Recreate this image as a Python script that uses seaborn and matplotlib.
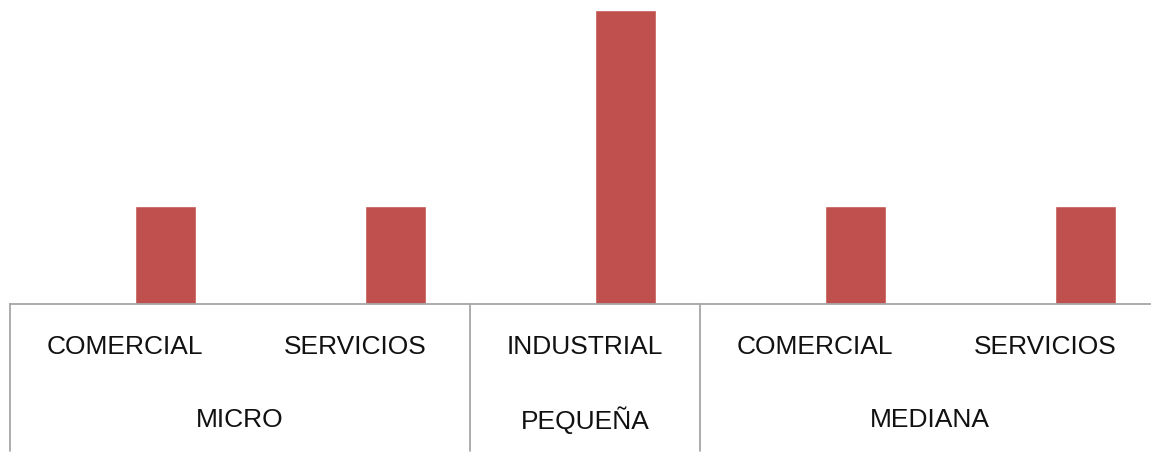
import numpy as np
import pandas as pd
import matplotlib
matplotlib.use('Agg')
import matplotlib.pyplot as plt
import matplotlib.transforms as mtransforms
import seaborn as sns

# data
sectors = ['COMERCIAL', 'SERVICIOS', 'INDUSTRIAL', 'COMERCIAL', 'SERVICIOS']
sizes = ['MICRO', 'PEQUEÑA', 'MEDIANA']
size_spans = [2, 1, 2]
counts = [1, 1, 3, 1, 1]

BAR_COLOR = '#C0504D'
LINE_COLOR = '#A6A6A6'
BAR_SHIFT = 0.175   # excel puts the single visible series right of the cluster centre

sns.set_theme(style='white')
plt.rcParams['font.family'] = ['Liberation Sans', 'DejaVu Sans']

W, H = 1151, 456
fig = plt.figure(figsize=(W / 100, H / 100), dpi=100)
ax = fig.add_axes([10 / W, (H - 305) / H, 5 * 230 / W, 294 / H])

df = pd.DataFrame({'pos': np.arange(len(counts)) + BAR_SHIFT, 'count': counts})
sns.barplot(data=df, x='pos', y='count', native_scale=True, width=0.266,
            color=BAR_COLOR, saturation=1, ax=ax)

ax.set_xlim(-0.5, len(counts) - 0.5)
ax.set_ylim(0, 3)
ax.set_xticks([])
ax.set_yticks([])
ax.set_xlabel('')
ax.set_ylabel('')
for side in ['top', 'right', 'left']:
    ax.spines[side].set_visible(False)
ax.spines['bottom'].set_color(LINE_COLOR)
ax.spines['bottom'].set_linewidth(1.3)

trans = mtransforms.blended_transform_factory(ax.transData, ax.transAxes)
depth = -147 / 294
row1 = -42 / 294
row2 = -115 / 294

# sector labels
for i, s in enumerate(sectors):
    ax.text(i, row1, s, transform=trans, ha='center', va='center',
            fontsize=19, color='#111111')

# group labels and separators
start = 0
for name, span in zip(sizes, size_spans):
    left = start - 0.5
    ax.plot([left, left], [0, depth], transform=trans, color=LINE_COLOR,
            lw=1.3, clip_on=False)
    ax.text(start - 0.5 + span / 2, row2, name, transform=trans, ha='center',
            va='center', fontsize=19, color='#111111')
    start += span

fig.savefig('out.png', dpi=100)
